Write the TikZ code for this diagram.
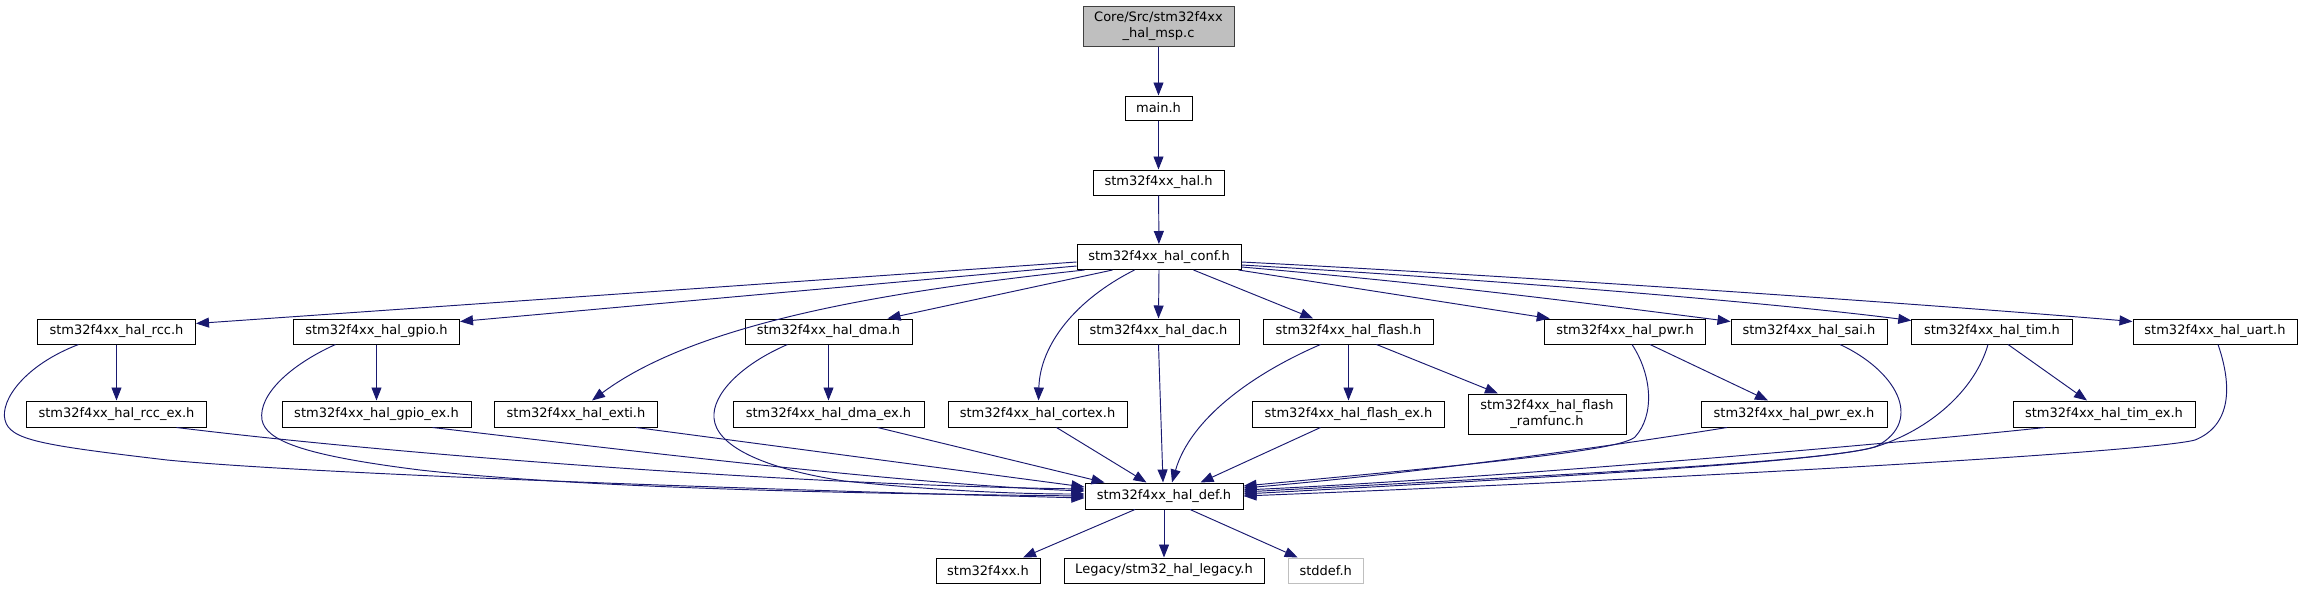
\documentclass[tikz,border=0pt]{standalone}
\usepackage{fontspec}
\setmainfont{DejaVu Sans}
\usetikzlibrary{arrows.meta,calc}
\definecolor{edgecol}{HTML}{191970}
\definecolor{topfill}{HTML}{BFBFBF}
\definecolor{topdraw}{HTML}{404040}
\definecolor{greyline}{HTML}{BFBFBF}
\begin{document}
\begin{tikzpicture}[x=1pt,y=-1pt,
  box/.style={draw=black, line width=1pt, fill=white, minimum height=25pt, inner sep=0pt,
    font=\fontsize{13}{15.5}\selectfont, align=center},
  tall/.style={minimum height=40pt},
  edge/.style={draw=edgecol, line width=0.95pt, -{Triangle[length=13pt,width=10pt]}},
]
\useasboundingbox (0,0) rectangle (2302,589);
% nodes
\node[box,tall,fill=topfill,draw=topdraw,minimum width=151pt] (top) at (1158.5,26) {Core/Src/stm32f4xx\\\_hal\_msp.c};
\node[box,minimum width=67pt,minimum height=24pt] (main) at (1158.5,108) {main.h};
\node[box,minimum width=131pt] (hal) at (1158.5,182.5) {stm32f4xx\_hal.h};
\node[box,minimum width=164pt] (conf) at (1159,257) {stm32f4xx\_hal\_conf.h};
\node[box,minimum width=158pt] (rcc) at (116.5,331.5) {stm32f4xx\_hal\_rcc.h};
\node[box,minimum width=166pt] (gpio) at (376.5,331.5) {stm32f4xx\_hal\_gpio.h};
\node[box,minimum width=167pt] (dma) at (828.5,331.5) {stm32f4xx\_hal\_dma.h};
\node[box,minimum width=161pt] (dac) at (1158.5,331.5) {stm32f4xx\_hal\_dac.h};
\node[box,minimum width=169.5pt] (flash) at (1348.5,331.5) {stm32f4xx\_hal\_flash.h};
\node[box,minimum width=161.5pt] (pwr) at (1625,331.5) {stm32f4xx\_hal\_pwr.h};
\node[box,minimum width=156pt] (sai) at (1809,331.5) {stm32f4xx\_hal\_sai.h};
\node[box,minimum width=160.5pt] (tim) at (1992,331.5) {stm32f4xx\_hal\_tim.h};
\node[box,minimum width=164pt] (uart) at (2215,331.5) {stm32f4xx\_hal\_uart.h};
\node[box,minimum width=180pt,minimum height=26pt] (rccex) at (116.5,414) {stm32f4xx\_hal\_rcc\_ex.h};
\node[box,minimum width=189pt,minimum height=26pt] (gpioex) at (376.5,414) {stm32f4xx\_hal\_gpio\_ex.h};
\node[box,minimum width=163pt,minimum height=26pt] (exti) at (576,414) {stm32f4xx\_hal\_exti.h};
\node[box,minimum width=191pt,minimum height=26pt] (dmaex) at (828.5,414) {stm32f4xx\_hal\_dma\_ex.h};
\node[box,minimum width=179pt,minimum height=26pt] (cortex) at (1037.5,414) {stm32f4xx\_hal\_cortex.h};
\node[box,minimum width=192.5pt,minimum height=26pt] (flashex) at (1348.5,414) {stm32f4xx\_hal\_flash\_ex.h};
\node[box,tall,minimum width=158pt] (ramfunc) at (1547,414) {stm32f4xx\_hal\_flash\\\_ramfunc.h};
\node[box,minimum width=186pt,minimum height=26pt] (pwrex) at (1794,414) {stm32f4xx\_hal\_pwr\_ex.h};
\node[box,minimum width=182pt,minimum height=26pt] (timex) at (2104,414) {stm32f4xx\_hal\_tim\_ex.h};
\node[box,minimum width=158pt,minimum height=26pt] (def) at (1164,496) {stm32f4xx\_hal\_def.h};
\node[box,minimum width=104pt] (f4xx) at (988,570.5) {stm32f4xx.h};
\node[box,minimum width=200pt] (legacy) at (1164,570.5) {Legacy/stm32\_hal\_legacy.h};
\node[box,draw=greyline,minimum width=75pt] (stddef) at (1325.7,570.5) {stddef.h};
% top chain
\draw[edge] (top) -- (main);
\draw[edge] (main) -- (hal);
\draw[edge] (hal) -- (conf);
% from conf
\draw[edge] ($(conf.west)+(0,5)$) -- ($(rcc.east)+(0,-8)$);
\draw[edge] ($(conf.west)+(0,9)$) -- ($(gpio.east)+(0,-10)$);
\draw[edge] ($(conf.south west)+(8,0)$) .. controls (900,290) and (700,320) .. ($(exti.north)+(16,0)$);
\draw[edge] ($(conf.south west)+(36,0)$) -- ($(dma.north east)+(-25,0)$);
\draw[edge] ($(conf.south west)+(58,0)$) .. controls (1075,300) and (1040,345) .. ($(cortex.north)+(1,0)$);
\draw[edge] (conf.south) -- (dac.north);
\draw[edge] ($(conf.south east)+(-48,0)$) -- ($(flash.north west)+(50,0)$);
\draw[edge] ($(conf.south east)+(-3,0)$) -- ($(pwr.north west)+(6,0)$);
\draw[edge] ($(conf.east)+(0,10)$) .. controls (1450,285) and (1600,305) .. ($(sai.west)+(0,-10)$);
\draw[edge] ($(conf.east)+(0,8)$) .. controls (1450,277) and (1750,300) .. ($(tim.west)+(0,-11)$);
\draw[edge] ($(conf.east)+(0,5)$) .. controls (1500,275) and (1900,302) .. ($(uart.west)+(0,-10)$);
% second row to third row
\draw[edge] (rcc) -- (rccex);
\draw[edge] (gpio) -- (gpioex);
\draw[edge] (dma) -- (dmaex);
\draw[edge] (flash) -- (flashex);
\draw[edge] ($(flash.south)+(28,0)$) -- ($(ramfunc.north)+(-49,0)$);
\draw[edge] ($(pwr.south)+(25,0)$) -- ($(pwrex.north)+(-26,0)$);
\draw[edge] ($(tim.south)+(16,0)$) -- ($(timex.north)+(-17,0)$);
% into def, left side
\draw[edge] ($(rcc.south)+(-38,0)$) .. controls (25,365) and (0,400) .. (5,420)
  .. controls (10,440) and (40,445) .. (167,460)
  .. controls (300,473) and (700,488) .. ($(def.west)+(0,2)$);
\draw[edge] ($(gpio.south)+(-41,0)$) .. controls (290,365) and (258,395) .. (262,420)
  .. controls (266,440) and (300,455) .. (420,470)
  .. controls (600,490) and (900,494) .. ($(def.west)+(0,0)$);
\draw[edge] ($(rccex.south)+(60,0)$) .. controls (400,455) and (800,485) .. ($(def.west)+(0,-7)$);
\draw[edge] ($(gpioex.south)+(56,0)$) .. controls (600,447) and (900,484) .. ($(def.west)+(0,-5)$);
\draw[edge] ($(exti.south)+(60,0)$) -- ($(def.west)+(0,-9)$);
\draw[edge] ($(dma.south)+(-41,0)$) .. controls (740,365) and (712,395) .. (714,418)
  .. controls (716,445) and (760,468) .. (844,481)
  .. controls (950,492) and (1030,494) .. ($(def.west)+(0,-2)$);
% into def, top
\draw[edge] ($(dmaex.south)+(49,0)$) -- ($(def.north west)+(20,0)$);
\draw[edge] ($(cortex.south)+(19,0)$) -- ($(def.north west)+(62,0)$);
\draw[edge] (dac.south) -- ($(def.north)+(-1,0)$);
\draw[edge] ($(flash.south)+(-28,0)$) .. controls (1250,375) and (1190,420) .. ($(def.north)+(8,0)$);
\draw[edge] ($(flashex.south)+(-28,0)$) -- ($(def.north east)+(-43,0)$);
% into def, right side
\draw[edge] ($(pwr.south)+(7,0)$) .. controls (1652,375) and (1655,415) .. (1635,437)
  .. controls (1620,450) and (1500,462) .. ($(def.east)+(0,-10)$);
\draw[edge] ($(pwrex.south)+(-67,0)$) .. controls (1600,448) and (1400,475) .. ($(def.east)+(0,-8)$);
\draw[edge] ($(sai.south)+(31,0)$) .. controls (1895,370) and (1925,420) .. (1877,446)
  .. controls (1840,462) and (1500,478) .. ($(def.east)+(0,-4)$);
\draw[edge] ($(tim.south)+(-4,0)$) .. controls (1975,390) and (1930,430) .. (1875,447)
  .. controls (1820,463) and (1500,480) .. ($(def.east)+(0,-2)$);
\draw[edge] ($(timex.south)+(-59,0)$) .. controls (1900,443) and (1500,478) .. ($(def.east)+(0,-6)$);
\draw[edge] ($(uart.south)+(3,0)$) .. controls (2232,385) and (2232,425) .. (2195,440)
  .. controls (2150,452) and (1700,478) .. ($(def.east)+(0,0)$);
% from def
\draw[edge] ($(def.south)+(-29,0)$) -- ($(f4xx.north)+(35,0)$);
\draw[edge] (def.south) -- (legacy.north);
\draw[edge] ($(def.south)+(26,0)$) -- ($(stddef.north)+(-28,0)$);
\end{tikzpicture}
\end{document}
